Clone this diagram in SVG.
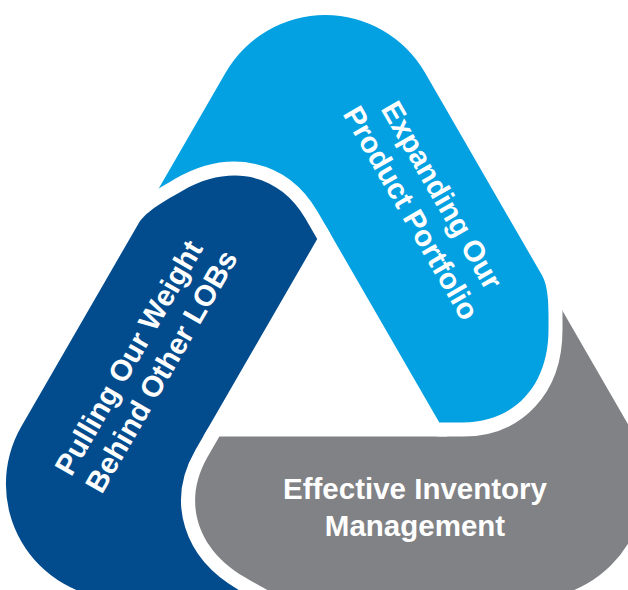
<svg xmlns="http://www.w3.org/2000/svg" xmlns:xlink="http://www.w3.org/1999/xlink" width="628" height="590" viewBox="0 0 628 590">
  <style>
    .band { stroke: #ffffff; stroke-width: 28; stroke-linejoin: round; paint-order: stroke; }
    .lb { fill: #03A1E1; }
    .db { fill: #024C8E; }
    .gr { fill: #818285; }
    .label { fill: #ffffff; font-family: "Liberation Sans", Arial, sans-serif; font-weight: bold; font-size: 29.5px; text-anchor: middle; }
  </style>
  <defs>
    <path id="band" d="M 138.4 223.7 L 225.7 72.5 A 115 115 0 0 1 424.9 72.5 L 542 275.3 C 549.5 288.3 548.5 312 548.5 330 C 548.5 385.5 514.3 422.5 463 422.5 L 439.3 422.5 L 325.3 225 L 317.2 239 L 305.4 218.5 C 279.7 174.1 230.6 163 182.5 190.7 C 166.9 199.7 145.9 210.7 138.4 223.7 Z"/>
    <clipPath id="grayHeadClip" clipPathUnits="userSpaceOnUse">
      <polygon points="0,400 275,400 275,548 318,548 318,600 0,600"/>
    </clipPath>
  </defs>

  <g id="node-effective-inventory">
    <use xlink:href="#band" href="#band" class="band gr" transform="rotate(120 325.3 366)"/>
    <text class="label" x="415" y="499">Effective Inventory</text>
    <text class="label" x="415" y="536">Management</text>
  </g>

  <g id="node-expanding-portfolio">
    <use xlink:href="#band" href="#band" class="band lb"/>
    <text class="label" transform="translate(433.2 200.2) rotate(60)">Expanding Our</text>
    <text class="label" transform="translate(402.4 218) rotate(60)">Product Portfolio</text>
  </g>

  <g id="node-pulling-weight">
    <use xlink:href="#band" href="#band" class="band db" transform="rotate(-120 325.3 366)"/>
    <text class="label" transform="translate(137.5 362.8) rotate(-60)">Pulling Our Weight</text>
    <text class="label" transform="translate(170.1 376.4) rotate(-60)">Behind Other LOBs</text>
  </g>

  <g id="interlock-gray-over-blue" clip-path="url(#grayHeadClip)">
    <use xlink:href="#band" href="#band" class="band gr" transform="rotate(120 325.3 366)"/>
  </g>
</svg>
